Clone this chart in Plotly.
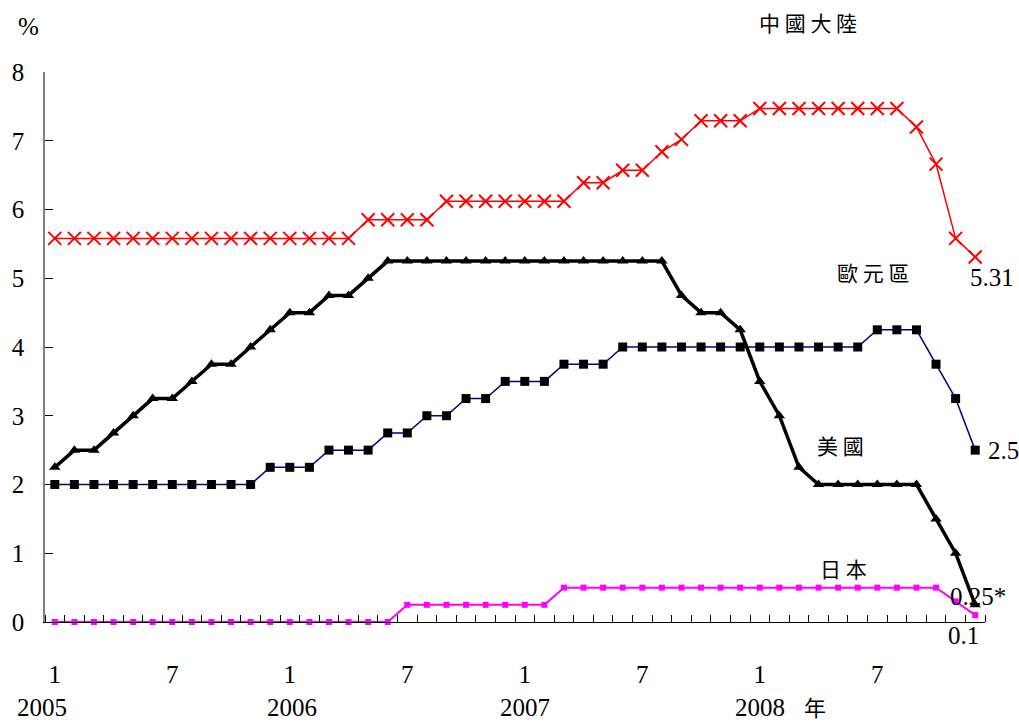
import plotly.graph_objects as go

# months Jan 2005 .. Dec 2008 (index 0..47)
months = list(range(48))
month_labels = ["1", "7"] * 4
month_label_pos = [0, 6, 12, 18, 24, 30, 36, 42]
years = ["2005", "2006", "2007", "2008"]

china = ([5.58] * 16 + [5.85] * 4 + [6.12] * 7 + [6.39] * 2 + [6.57] * 2
         + [6.84, 7.02] + [7.29] * 3 + [7.47] * 8 + [7.20, 6.66, 5.58, 5.31])
euro = ([2.0] * 11 + [2.25] * 3 + [2.5] * 3 + [2.75] * 2 + [3.0] * 2 + [3.25] * 2
        + [3.5] * 3 + [3.75] * 3 + [4.0] * 13 + [4.25] * 3 + [3.75, 3.25, 2.5])
usa = ([2.25, 2.5, 2.5, 2.75, 3.0, 3.25, 3.25, 3.5, 3.75, 3.75, 4.0, 4.25,
        4.5, 4.5, 4.75, 4.75, 5.0] + [5.25] * 15
       + [4.75, 4.5, 4.5, 4.25, 3.5, 3.0, 2.25] + [2.0] * 6 + [1.5, 1.0, 0.25])
japan = [0.0] * 18 + [0.25] * 8 + [0.5] * 20 + [0.3, 0.1]

SERIF = "Liberation Serif"
CJK = "Noto Sans CJK TC"

fig = go.Figure()

fig.add_trace(go.Scatter(
    x=months, y=china, mode="lines+markers", cliponaxis=False,
    line=dict(color="#ff0000", width=1.5),
    marker=dict(symbol="x-thin", size=13, line=dict(color="#ff0000", width=2)),
))
fig.add_trace(go.Scatter(
    x=months, y=euro, mode="lines+markers", cliponaxis=False,
    line=dict(color="#000080", width=1.5),
    marker=dict(symbol="square", size=9, color="#000000"),
))
fig.add_trace(go.Scatter(
    x=months, y=usa, mode="lines+markers", cliponaxis=False,
    line=dict(color="#000000", width=3.5),
    marker=dict(symbol="triangle-up", size=10, color="#000000"),
))
fig.add_trace(go.Scatter(
    x=months, y=japan, mode="lines+markers", cliponaxis=False,
    line=dict(color="#ff00ff", width=2),
    marker=dict(symbol="square", size=6, color="#ff00ff"),
))


def note(text, x, y, font, size=21, anchor="center"):
    # labels placed in paper coordinates of the plot area
    fig.add_annotation(text=text, x=x, y=y, xref="paper", yref="paper",
                       showarrow=False, xanchor=anchor, yanchor="middle",
                       font=dict(family=font, size=size, color="#000000"))


note("中 國 大 陸", 0.812, 1.091, CJK)
note("歐 元 區", 0.881, 0.636, CJK)
note("美 國", 0.846, 0.322, CJK)
note("日 本", 0.849, 0.098, CJK)
note("5.31", 0.982, 0.626, SERIF, 25, "left")
note("2.5", 1.001, 0.311, SERIF, 25, "left")
note("0.25*", 0.9606, 0.046, SERIF, 25, "left")
note("0.1", 0.977, -0.024, SERIF, 25)
note("%", -0.018, 1.082, SERIF, 25)

# year labels under the month ticks
year_pos = [-0.003, 0.263, 0.511, 0.761]
for yr, pos in zip(years, year_pos):
    note(yr, pos, -0.156, SERIF, 25)
note("年", 0.819, -0.153, CJK, 22)

fig.update_layout(
    width=1019, height=725,
    margin=dict(l=45, r=34, t=72, b=103),
    plot_bgcolor="#ffffff", paper_bgcolor="#ffffff",
    showlegend=False,
    font=dict(family=SERIF, size=25, color="#000000"),
    xaxis=dict(
        range=[-0.5, 47.5],
        tickmode="array", tickvals=month_label_pos, ticktext=month_labels,
        ticks="", ticklabelstandoff=30,
        minor=dict(ticks="inside", tick0=-0.5, dtick=1, ticklen=7,
                   tickcolor="#000000", tickwidth=1),
        showline=True, linecolor="#000000", linewidth=1,
        showgrid=False, zeroline=False,
    ),
    yaxis=dict(
        range=[0, 8], dtick=1,
        ticks="inside", ticklen=8, tickcolor="#000000",
        ticklabelstandoff=14,
        showline=True, linecolor="#808080", linewidth=1.5,
        showgrid=False, zeroline=False,
    ),
)

fig.write_html("out.html", config={"displayModeBar": False},
               post_script="document.body.style.margin='0';")
